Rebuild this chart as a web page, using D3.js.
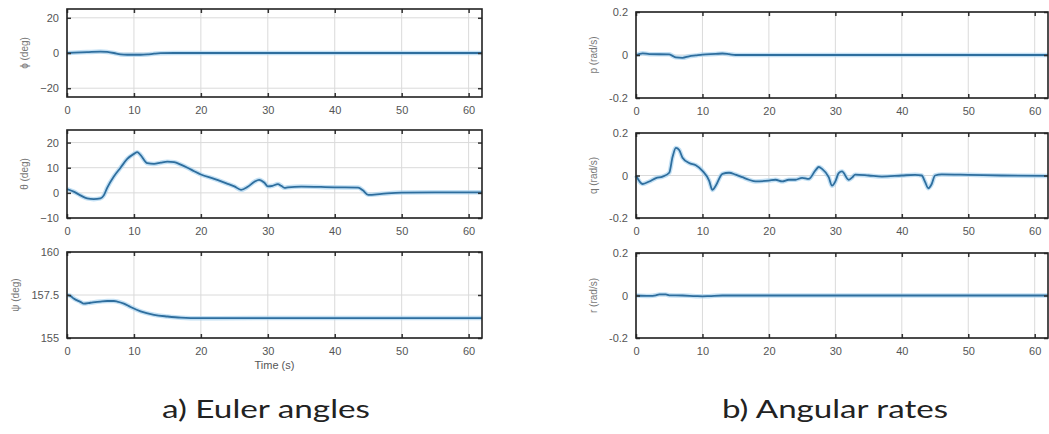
<!DOCTYPE html>
<html>
<head>
<meta charset="utf-8">
<script src="https://cdn.jsdelivr.net/npm/d3@7"></script>
<style>
  html, body { margin: 0; padding: 0; background: #fff; }
  svg { display: block; }
</style>
</head>
<body>
<svg id="chart" width="1049" height="434"></svg>
<script>
// Flight test record: attitude (Euler angles) and body angular rates vs time

const xTicks = [0, 10, 20, 30, 40, 50, 60];

// Roll angle phi (deg)
const phiT = [0, 1, 3, 5, 6, 7, 8, 9, 11, 12, 13, 14, 16, 20, 30, 40, 50, 62];
const phiV = [0, 0.2, 0.5, 0.8, 0.6, 0, -0.8, -1.0, -1.0, -0.8, -0.4, -0.1, 0, 0, 0, 0, 0, 0];

// Pitch angle theta (deg)
const thetaT = [0, 1, 2, 3, 4, 5, 5.5, 6, 7, 8, 9, 10, 10.5, 11, 12, 13, 14, 15, 16, 17, 18, 19, 20, 22, 24, 25, 26, 27, 28, 28.7, 29.5, 30, 30.7, 31.5, 32, 32.5, 33, 35, 40, 43.5, 44.2, 45, 47, 50, 55, 62];
const thetaV = [1.5, 0.5, -1, -2.2, -2.5, -2.2, -1, 2, 6.5, 10, 13.5, 15.5, 16.2, 15, 11.8, 11.5, 12, 12.4, 12.2, 11.2, 10, 8.6, 7.3, 5.6, 3.6, 2.6, 1.2, 2.4, 4.4, 5.2, 4.0, 2.6, 2.8, 3.5, 2.8, 2.0, 2.2, 2.5, 2.2, 2.1, 1.0, -0.8, -0.4, 0.1, 0.2, 0.2];

// Yaw angle psi (deg)
const psiT = [0, 0.5, 1, 2, 2.5, 3.5, 5, 6, 7, 7.5, 8.5, 9.5, 11, 13, 15, 17, 20, 30, 40, 50, 62];
const psiV = [157.5, 157.45, 157.3, 157.1, 157.0, 157.05, 157.12, 157.15, 157.15, 157.12, 157.0, 156.8, 156.55, 156.35, 156.25, 156.18, 156.15, 156.16, 156.16, 156.16, 156.16];

// Roll rate p (rad/s)
const pT = [0, 1, 2, 5, 5.5, 6, 7, 8, 9, 10, 12, 13, 14, 15, 20, 30, 40, 50, 62];
const pV = [0, 0.008, 0.004, 0.003, -0.004, -0.011, -0.013, -0.006, -0.002, 0.002, 0.005, 0.007, 0.004, 0, 0, 0, 0, 0, 0];

// Pitch rate q (rad/s)
const qT = [0, 1, 2, 3, 4, 5, 5.5, 6, 6.5, 7, 8, 9, 10, 11, 11.5, 12, 13, 14, 15, 16, 17, 18, 20, 21, 22, 23, 24, 25, 26, 27, 27.5, 28, 29, 29.5, 30, 30.5, 31, 32, 32.5, 33, 35, 37, 40, 42, 43, 43.5, 44, 44.5, 45, 46, 50, 55, 62];
const qV = [0, -0.04, -0.028, -0.012, -0.005, 0.013, 0.087, 0.13, 0.12, 0.084, 0.059, 0.048, 0.022, -0.024, -0.068, -0.048, 0.008, 0.013, 0.004, -0.008, -0.02, -0.028, -0.024, -0.02, -0.028, -0.02, -0.02, -0.011, -0.016, 0.024, 0.04, 0.031, -0.008, -0.048, -0.028, 0.011, 0.019, -0.02, -0.01, 0.004, 0, -0.005, 0, 0.003, 0, -0.03, -0.06, -0.04, 0, 0.005, 0.003, 0, -0.002];

// Yaw rate r (rad/s)
const rT = [0, 2, 3, 3.5, 4.5, 5, 7, 9, 10, 11, 13, 20, 30, 40, 50, 62];
const rV = [0, -0.002, 0.001, 0.005, 0.005, 0.001, 0, -0.003, -0.004, -0.003, 0, 0, 0, 0, 0, 0];

const phiTicks = [-20, 0, 20];
const thetaTicks = [-10, 0, 10, 20];
const psiTicks = [155, 157.5, 160];
const rateTicks = [-0.2, 0, 0.2];

const captionA = "a) Euler angles";
const captionB = "b) Angular rates";

const svg = d3.select("#chart");

const left = { x0: 67, x1: 482 };
const right = { x0: 636, x1: 1048 };

const panels = [
  { col: left,  y0: 9,   y1: 97,  dom: [-25, 25],   ticks: phiTicks,   t: phiT,   v: phiV,   label: "ϕ (deg)", fmt: d3.format("d") },
  { col: left,  y0: 130, y1: 218, dom: [-10, 25],   ticks: thetaTicks, t: thetaT, v: thetaV, label: "θ (deg)", fmt: d3.format("d") },
  { col: left,  y0: 252, y1: 338, dom: [155, 160],  ticks: psiTicks,   t: psiT,   v: psiV,   label: "ψ (deg)", fmt: d => String(d), xlabel: "Time (s)" },
  { col: right, y0: 12,  y1: 98,  dom: [-0.2, 0.2], ticks: rateTicks,  t: pT,     v: pV,     label: "p (rad/s)", fmt: d => String(d) },
  { col: right, y0: 133, y1: 218, dom: [-0.2, 0.2], ticks: rateTicks,  t: qT,     v: qV,     label: "q (rad/s)", fmt: d => String(d) },
  { col: right, y0: 253, y1: 338, dom: [-0.2, 0.2], ticks: rateTicks,  t: rT,     v: rV,     label: "r (rad/s)", fmt: d => String(d) }
];

const tickFont = "'Liberation Sans', Arial, sans-serif";

panels.forEach(p => {
  const x = d3.scaleLinear().domain([0, 62]).range([p.col.x0, p.col.x1]);
  const y = d3.scaleLinear().domain(p.dom).range([p.y1, p.y0]);
  const g = svg.append("g");

  // grid
  g.append("g").selectAll("line").data(xTicks).join("line")
    .attr("x1", d => x(d)).attr("x2", d => x(d))
    .attr("y1", p.y0).attr("y2", p.y1)
    .attr("stroke", "#dadada").attr("stroke-width", 1);
  g.append("g").selectAll("line").data(p.ticks).join("line")
    .attr("x1", p.col.x0).attr("x2", p.col.x1)
    .attr("y1", d => y(d)).attr("y2", d => y(d))
    .attr("stroke", "#dadada").attr("stroke-width", 1);

  // data line: soft halo + core
  const pts = p.t.map((t, i) => [t, p.v[i]]);
  const line = d3.line().x(d => x(d[0])).y(d => y(d[1])).curve(d3.curveMonotoneX);
  g.append("path").datum(pts).attr("d", line)
    .attr("fill", "none").attr("stroke", "#a9d3ef").attr("stroke-width", 4.5).attr("stroke-opacity", 0.7);
  g.append("path").datum(pts).attr("d", line)
    .attr("fill", "none").attr("stroke", "#2e6e9e").attr("stroke-width", 1.8);

  // x axis (bottom) with inward ticks, mirrored on top
  const xb = d3.axisBottom(x).tickValues(xTicks).tickSize(-4).tickPadding(9).tickFormat(d3.format("d"));
  const xa = g.append("g").attr("transform", `translate(0,${p.y1})`).call(xb);
  const xt = d3.axisTop(x).tickValues(xTicks).tickSize(-4).tickFormat("");
  const xta = g.append("g").attr("transform", `translate(0,${p.y0})`).call(xt);

  const yl = d3.axisLeft(y).tickValues(p.ticks).tickSize(-4).tickPadding(8).tickFormat(p.fmt);
  const ya = g.append("g").attr("transform", `translate(${p.col.x0},0)`).call(yl);
  const yr = d3.axisRight(y).tickValues(p.ticks).tickSize(-4).tickFormat("");
  const yra = g.append("g").attr("transform", `translate(${p.col.x1},0)`).call(yr);

  [xa, xta, ya, yra].forEach(a => {
    a.select(".domain").remove();
    a.selectAll(".tick line").attr("stroke", "#333").attr("stroke-width", 1.5);
    a.selectAll("text").attr("font-family", tickFont).attr("font-size", 11).attr("fill", "#555");
  });

  // axes box
  g.append("rect")
    .attr("x", p.col.x0).attr("y", p.y0)
    .attr("width", p.col.x1 - p.col.x0).attr("height", p.y1 - p.y0)
    .attr("fill", "none").attr("stroke", "#222").attr("stroke-width", 1.6);

  // y label placed left of the widest tick label
  let maxW = 0;
  ya.selectAll("text").each(function () { maxW = Math.max(maxW, this.getComputedTextLength()); });
  const lx = p.col.x0 - 8 - maxW - 12;
  g.append("text")
    .attr("transform", `translate(${lx},${(p.y0 + p.y1) / 2}) rotate(-90)`)
    .attr("text-anchor", "middle")
    .attr("font-family", tickFont).attr("font-size", 10).attr("fill", "#777")
    .text(p.label);

  if (p.xlabel) {
    g.append("text")
      .attr("x", (p.col.x0 + p.col.x1) / 2).attr("y", p.y1 + 31)
      .attr("text-anchor", "middle")
      .attr("font-family", tickFont).attr("font-size", 11).attr("fill", "#555")
      .text(p.xlabel);
  }
});

// panel captions
const capFont = "Lato, 'Open Sans', sans-serif";
svg.append("text").attr("x", 162).attr("y", 418)
  .attr("font-family", capFont).attr("font-size", 25).attr("fill", "#222")
  .attr("textLength", 208).attr("lengthAdjust", "spacingAndGlyphs").text(captionA);
svg.append("text").attr("x", 722).attr("y", 418)
  .attr("font-family", capFont).attr("font-size", 25).attr("fill", "#222")
  .attr("textLength", 226).attr("lengthAdjust", "spacingAndGlyphs").text(captionB);
</script>
</body>
</html>
